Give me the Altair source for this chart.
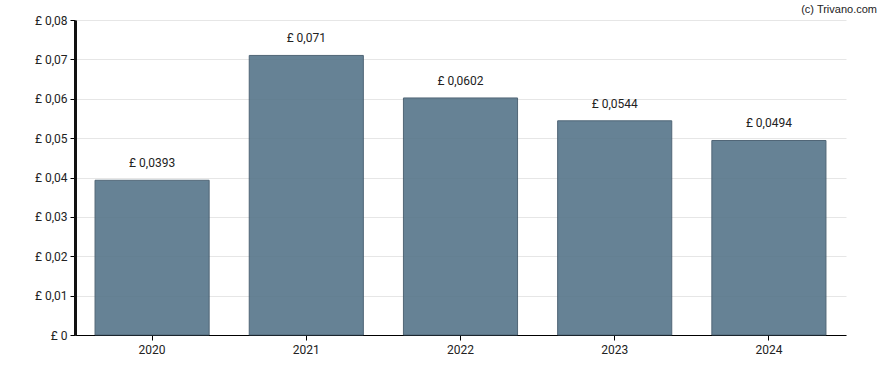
import altair as alt
import pandas as pd

years = ["2020", "2021", "2022", "2023", "2024"]
values = [0.0393, 0.071, 0.0602, 0.0544, 0.0494]
labels = ["£ 0,0393", "£ 0,071", "£ 0,0602", "£ 0,0544", "£ 0,0494"]
y_ticks = [0, 0.01, 0.02, 0.03, 0.04, 0.05, 0.06, 0.07, 0.08]

df = pd.DataFrame({"year": years, "value": values, "label": labels})

base = alt.Chart(df)

x = alt.X("year:N", title=None,
          scale=alt.Scale(paddingInner=0.26, paddingOuter=0.13),
          axis=alt.Axis(labelAngle=0, labelFontSize=12, labelColor="#222",
                        labelFont="Roboto", domainColor="black", tickColor="black",
                        tickSize=5, labelPadding=4, grid=False))

y = alt.Y("value:Q", title=None,
          scale=alt.Scale(domain=[0, 0.08], nice=False),
          axis=alt.Axis(values=y_ticks, labelFontSize=12, labelColor="#222",
                        labelFont="Roboto", domainColor="#111", domain=True,
                        domainWidth=3,
                        tickColor="black", tickSize=5, gridColor="#e6e6e6",
                        labelPadding=3, labelOverlap=False,
                        labelExpr="datum.value == 0 ? '£ 0' : '£ ' + replace(format(datum.value, '.2f'), '.', ',')"))

bars = base.mark_bar(color="#56758a", opacity=0.9, stroke="#3e5668",
                     strokeWidth=1).encode(x=x, y=y)

text = base.mark_text(baseline="bottom", dy=-10, fontSize=12,
                      font="Roboto", color="#222").encode(
    x=x, y=y, text="label:N")

chart = (bars + text).properties(
    width=771, height=315,
    title=alt.TitleParams("(c) Trivano.com", anchor="end", fontSize=11,
                          fontWeight="normal", font="Liberation Sans",
                          color="#222", dx=31, offset=-1),
    padding={"left": 75, "top": 20, "right": 42, "bottom": 35},
    autosize=alt.AutoSizeParams(type="none"),
).configure_view(stroke=None).configure_axis(labelFontWeight="normal")

chart.save("out.html", embed_options={"renderer": "svg", "actions": False})
